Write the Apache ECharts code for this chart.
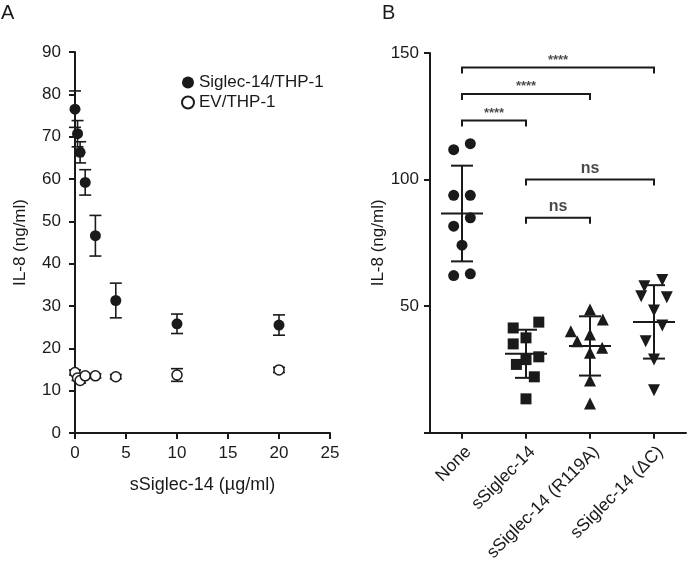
<!DOCTYPE html>
<html>
<head>
<meta charset="utf-8">
<script src="https://cdn.jsdelivr.net/npm/echarts@6/dist/echarts.min.js"></script>
<style>html,body{margin:0;padding:0;background:#fff}#c{width:693px;height:564px}</style>
</head>
<body>
<div id="c"></div>
<script>
// ---------- Panel A data ----------
const xA = [0, 0.25, 0.5, 1, 2, 4, 10, 20];
const siglecMean = [76.5, 70.7, 66.3, 59.2, 46.6, 31.3, 25.8, 25.5];
const siglecSD   = [4.3, 3.1, 2.5, 3.0, 4.8, 4.1, 2.3, 2.4];
const evMean     = [14.3, 13.0, 12.4, 13.5, 13.5, 13.3, 13.7, 14.9];
const evSD       = [0.6, 0.6, 0.6, 0.5, 0.5, 0.5, 1.5, 0.6];
const yTicksA = [0, 90, 10];
const xTicksA = [0, 25, 5];

// ---------- Panel B data ----------
const catsB = ['None', 'sSiglec-14', 'sSiglec-14 (R119A)', 'sSiglec-14 (\u0394C)'];
const noneVals = [111.8, 114.2, 93.8, 93.8, 84.9, 81.6, 74.1, 62.1, 62.8];
const noneJit  = [-0.13, 0.13, -0.13, 0.13, 0.13, -0.13, 0, -0.13, 0.13];
const sSigVals = [41.4, 43.7, 35.1, 37.5, 30.0, 28.9, 27.0, 22.1, 13.4];
const sSigJit  = [-0.2, 0.2, -0.2, 0, 0.2, 0, -0.15, 0.13, 0];
const r119Vals = [48.7, 44.7, 40.1, 38.8, 36.2, 33.6, 31.6, 20.6, 11.6];
const r119Jit  = [0, 0.2, -0.3, 0, -0.2, 0.19, 0, 0, 0];
const dCVals   = [57.9, 60.3, 53.9, 53.5, 48.3, 42.4, 36.2, 28.9, 16.8];
const dCJit    = [-0.15, 0.13, -0.2, 0.2, 0, 0.13, -0.13, 0, 0];
const meanB = [86.6, 31.2, 34.3, 43.8];
const sdB   = [18.9, 9.5, 11.7, 14.5];
// brackets: [from category, to category, height, label]
const bracketFrom = [0, 0, 0, 1, 1];
const bracketTo   = [1, 2, 3, 2, 3];
const bracketY    = [123.3, 133.8, 144.3, 84.9, 100];
const bracketLab  = ['****', '****', '****', 'ns', 'ns'];
const yTicksB = [0, 150, 50];

const FONT = 'Liberation Sans, Arial, Helvetica, sans-serif';
const INK = '#1a1a1a';
const chart = echarts.init(document.getElementById('c'), null, {renderer: 'canvas'});

function errRender(halfCap) {
  return function (params, api) {
    const x = api.value(0), lo = api.value(1), hi = api.value(2);
    const pLo = api.coord([x, lo]), pHi = api.coord([x, hi]);
    const st = {stroke: INK, lineWidth: 1.6};
    return {type: 'group', children: [
      {type: 'line', shape: {x1: pLo[0], y1: pLo[1], x2: pHi[0], y2: pHi[1]}, style: st},
      {type: 'line', shape: {x1: pLo[0]-halfCap, y1: pLo[1], x2: pLo[0]+halfCap, y2: pLo[1]}, style: st},
      {type: 'line', shape: {x1: pHi[0]-halfCap, y1: pHi[1], x2: pHi[0]+halfCap, y2: pHi[1]}, style: st}
    ]};
  };
}

function meanSdRender(params, api) {
  const x = api.value(0), m = api.value(1), s = api.value(2);
  const pm = api.coord([x, m]), pLo = api.coord([x, m - s]), pHi = api.coord([x, m + s]);
  const st = {stroke: INK, lineWidth: 2};
  return {type: 'group', children: [
    {type: 'line', shape: {x1: pm[0]-21, y1: pm[1], x2: pm[0]+21, y2: pm[1]}, style: st},
    {type: 'line', shape: {x1: pLo[0], y1: pLo[1], x2: pHi[0], y2: pHi[1]}, style: st},
    {type: 'line', shape: {x1: pLo[0]-11, y1: pLo[1], x2: pLo[0]+11, y2: pLo[1]}, style: st},
    {type: 'line', shape: {x1: pHi[0]-11, y1: pHi[1], x2: pHi[0]+11, y2: pHi[1]}, style: st}
  ]};
}

function bracketRender(params, api) {
  const a = api.value(0), b = api.value(1), h = api.value(2);
  const p1 = api.coord([a, h]), p2 = api.coord([b, h]);
  const tick = 6;
  return {type: 'group', children: [
    {type: 'polyline', shape: {points: [[p1[0], p1[1]+tick], p1, p2, [p2[0], p2[1]+tick]]},
     style: {stroke: INK, lineWidth: 2, fill: null}}
  ]};
}

const axisLineA = {show: true, onZero: false, lineStyle: {color: INK, width: 2}};
const tickA = {show: true, length: 6, lineStyle: {color: INK, width: 2}};
const labelA = {color: INK, fontSize: 17, fontFamily: FONT};

const pts = (vals, jit, k) => vals.map((v, i) => [k + jit[i], v]);

const option = {
  backgroundColor: '#fff',
  animation: false,
  textStyle: {fontFamily: FONT},
  graphic: [
    {type: 'text', left: 1, top: 3, style: {text: 'A', fontSize: 20, fontFamily: FONT, fill: INK}},
    {type: 'text', left: 382, top: 3, style: {text: 'B', fontSize: 20, fontFamily: FONT, fill: INK}}
  ],
  legend: {
    show: true, orient: 'vertical', left: 176, top: 69, itemGap: 3,
    itemWidth: 12, itemHeight: 12,
    textStyle: {fontSize: 17, fontFamily: FONT, color: INK},
    data: ['Siglec-14/THP-1', 'EV/THP-1']
  },
  grid: [
    {left: 75, top: 52, width: 255, height: 381},
    {left: 430, top: 53, width: 256, height: 380}
  ],
  xAxis: [
    {gridIndex: 0, type: 'value', min: xTicksA[0], max: xTicksA[1], interval: xTicksA[2],
     name: 'sSiglec-14 (\u00b5g/ml)', nameLocation: 'middle', nameGap: 43,
     nameTextStyle: {fontSize: 18, color: INK, fontFamily: FONT},
     axisLine: axisLineA, axisTick: tickA, axisLabel: Object.assign({margin: 12}, labelA), splitLine: {show: false}},
    {gridIndex: 1, type: 'category', data: catsB, boundaryGap: true,
     axisLine: axisLineA, axisTick: {show: true, alignWithLabel: true, length: 6, lineStyle: {color: INK, width: 2}},
     axisLabel: {rotate: 45, margin: 10, color: INK, fontSize: 17.5, fontFamily: FONT, interval: 0,
                 verticalAlign: 'top'}},
    {gridIndex: 1, type: 'value', min: -0.5, max: 3.5, show: false}
  ],
  yAxis: [
    {gridIndex: 0, type: 'value', min: yTicksA[0], max: yTicksA[1], interval: yTicksA[2],
     name: 'IL-8 (ng/ml)', nameLocation: 'middle', nameGap: 46,
     nameTextStyle: {fontSize: 17, color: INK, fontFamily: FONT},
     axisLine: axisLineA, axisTick: tickA, axisLabel: Object.assign({margin: 14}, labelA), splitLine: {show: false}},
    {gridIndex: 1, type: 'value', min: yTicksB[0], max: yTicksB[1], interval: yTicksB[2],
     name: 'IL-8 (ng/ml)', nameLocation: 'middle', nameGap: 30,
     nameTextStyle: {fontSize: 17, color: INK, fontFamily: FONT},
     axisLine: axisLineA, axisTick: tickA,
     axisLabel: Object.assign({margin: 11, formatter: v => v === 0 ? '' : String(v)}, labelA),
     splitLine: {show: false}}
  ],
  series: [
    {type: 'custom', xAxisIndex: 0, yAxisIndex: 0, z: 1, renderItem: errRender(6),
     data: xA.map((x, i) => [x, siglecMean[i] - siglecSD[i], siglecMean[i] + siglecSD[i]])},
    {type: 'custom', xAxisIndex: 0, yAxisIndex: 0, z: 1, renderItem: errRender(6),
     data: xA.map((x, i) => [x, evMean[i] - evSD[i], evMean[i] + evSD[i]])},
    {name: 'Siglec-14/THP-1', type: 'scatter', xAxisIndex: 0, yAxisIndex: 0, z: 3,
     symbol: 'circle', symbolSize: 11, itemStyle: {color: INK, opacity: 1},
     data: xA.map((x, i) => [x, siglecMean[i]])},
    {name: 'EV/THP-1', type: 'scatter', xAxisIndex: 0, yAxisIndex: 0, z: 3,
     symbol: 'circle', symbolSize: 10, itemStyle: {color: '#fff', borderColor: INK, borderWidth: 1.5, opacity: 1},
     data: xA.map((x, i) => [x, evMean[i]])},

    {type: 'scatter', xAxisIndex: 2, yAxisIndex: 1, symbol: 'circle', symbolSize: 11,
     itemStyle: {color: INK, opacity: 1}, data: pts(noneVals, noneJit, 0)},
    {type: 'scatter', xAxisIndex: 2, yAxisIndex: 1, symbol: 'rect', symbolSize: 11,
     itemStyle: {color: INK, opacity: 1}, data: pts(sSigVals, sSigJit, 1)},
    {type: 'scatter', xAxisIndex: 2, yAxisIndex: 1, symbol: 'triangle', symbolSize: 12,
     itemStyle: {color: INK, opacity: 1}, data: pts(r119Vals, r119Jit, 2)},
    {type: 'scatter', xAxisIndex: 2, yAxisIndex: 1, symbol: 'triangle', symbolRotate: 180, symbolSize: 12,
     itemStyle: {color: INK, opacity: 1}, data: pts(dCVals, dCJit, 3)},
    {type: 'custom', xAxisIndex: 2, yAxisIndex: 1, z: 4, renderItem: meanSdRender,
     data: meanB.map((m, i) => [i, m, sdB[i]])},
    {type: 'custom', xAxisIndex: 2, yAxisIndex: 1, z: 4, renderItem: bracketRender,
     data: bracketY.map((h, i) => [bracketFrom[i], bracketTo[i], h])},
    {type: 'scatter', xAxisIndex: 2, yAxisIndex: 1, symbolSize: 0, z: 5, silent: true,
     data: bracketY.map((h, i) => ({
       value: [(bracketFrom[i] + bracketTo[i]) / 2, h],
       label: {show: true, position: 'top', distance: bracketLab[i] === 'ns' ? 3 : 1,
               formatter: bracketLab[i], color: INK, fontFamily: FONT, fontWeight: 'bold',
               fontSize: bracketLab[i] === 'ns' ? 16 : 13}
     }))}
  ]
};
chart.setOption(option);
</script>
</body>
</html>
